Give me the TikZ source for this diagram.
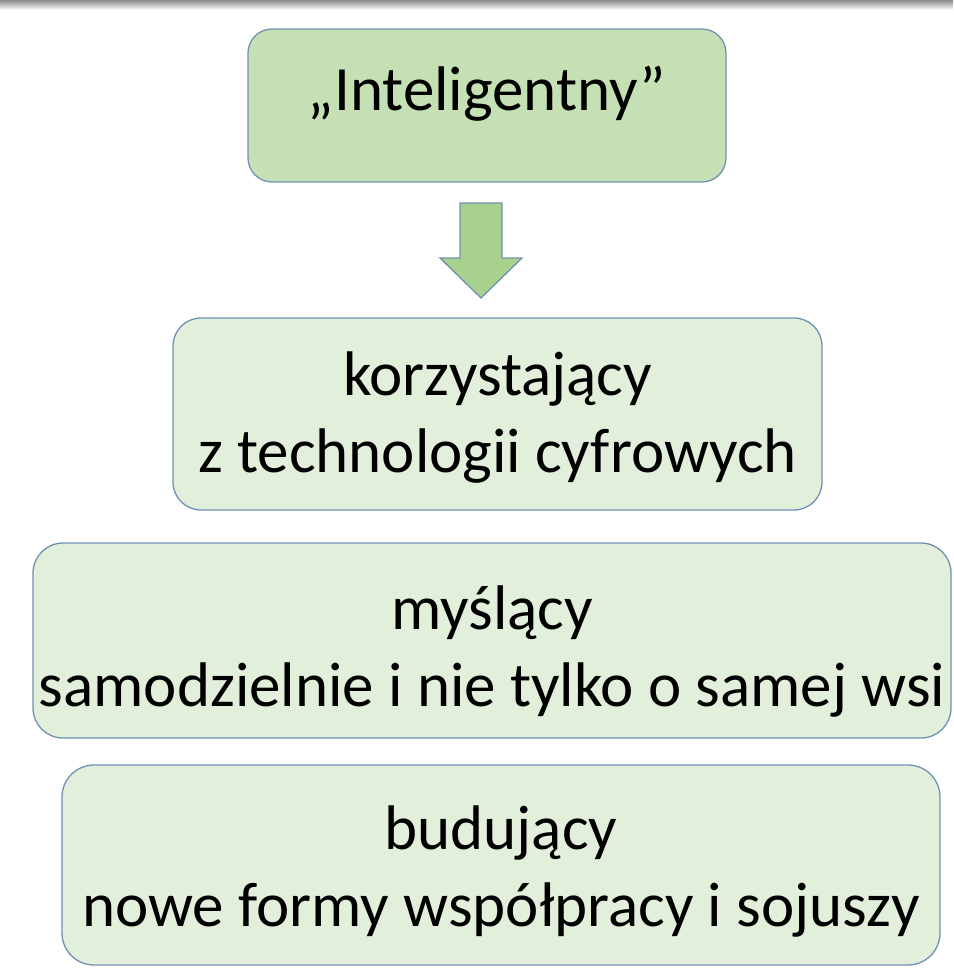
\documentclass[tikz,border=0pt]{standalone}
\usepackage{fontspec}
\setmainfont{Carlito}
\usepackage{tikz}
\definecolor{zielen}{HTML}{C5E0B4}
\definecolor{jasny}{HTML}{E2EFDA}
\definecolor{strzalka}{HTML}{A9D18E}
\definecolor{ramka}{HTML}{7191B3}

\begin{document}
\begin{tikzpicture}[x=1pt,y=-1pt,
    pole/.style={draw=ramka, line width=1.3pt, fill=jasny, inner sep=0pt},
    glowne/.style={pole, fill=zielen},
    napis/.style={align=center, font=\fontsize{63}{77}\selectfont}]
    \useasboundingbox (0,0) rectangle (953,968);
    \shade[top color=black!45, bottom color=white] (0,0) rectangle (953,10);
    \node[glowne, rounded corners=24pt, minimum width=478pt, minimum height=153pt,
      label={[napis, yshift=12pt]center:„Inteligentny”}] (intel) at (487,105.5) {};
    \node[pole, rounded corners=28pt, minimum width=649pt, minimum height=192pt,
      label={[napis, yshift=-4pt]center:korzystający\\z technologii cyfrowych}] (cyfr) at (497.5,414) {};
    \node[pole, rounded corners=30pt, minimum width=918pt, minimum height=195pt,
      label={[napis, yshift=-11pt]center:myślący\\samodzielnie i nie tylko o samej wsi}] (wies) at (492,640.5) {};
    \node[pole, rounded corners=32pt, minimum width=878pt, minimum height=200pt,
      label={[napis, yshift=-7pt]center:budujący\\nowe formy współpracy i sojuszy}] (sojusz) at (501,865) {};
    \coordinate (grot) at (481,298);
    \draw[ramka, line width=1.3pt, fill=strzalka]
      (grot) -- ++(-41,-40) -- ++(20,0) -- ++(0,-55) -- ++(42,0) -- ++(0,55) -- ++(20,0) -- cycle;
\end{tikzpicture}
\end{document}
